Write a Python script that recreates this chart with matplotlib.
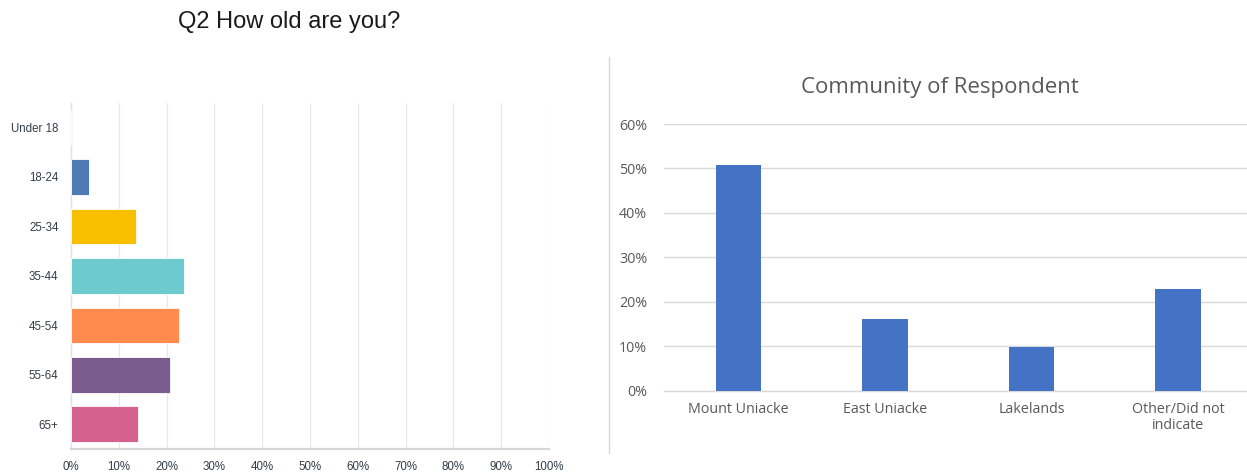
import matplotlib
matplotlib.use("Agg")
import matplotlib.pyplot as plt
from matplotlib.ticker import FuncFormatter

# ---- Data ----
age_groups = ["Under 18", "18-24", "25-34", "35-44", "45-54", "55-64", "65+"]
age_pct = [0.0, 3.7, 13.6, 23.7, 22.6, 20.7, 14.1]
age_colors = ["#4f7bb5", "#4f7bb5", "#f8be00", "#6dcacf", "#ff8b4f", "#7c5b8f", "#d5618f"]
age_ticks = [0, 10, 20, 30, 40, 50, 60, 70, 80, 90, 100]

communities = ["Mount Uniacke", "East Uniacke", "Lakelands", "Other/Did not\nindicate"]
community_pct = [0.507, 0.161, 0.099, 0.228]
community_ticks = [0, 0.1, 0.2, 0.3, 0.4, 0.5, 0.6]

W, H = 1247, 472
fig = plt.figure(figsize=(W / 100, H / 100), dpi=100)
fig.patch.set_facecolor("white")

def rect(l, t, r, b):
    return [l / W, 1 - b / H, (r - l) / W, (b - t) / H]

# ---- Left chart ----
ax1 = fig.add_axes(rect(71, 102.7, 549, 449))
ypos = list(range(len(age_groups)))
ax1.barh(ypos, age_pct, height=0.72, color=age_colors, edgecolor="white", linewidth=0.6, zorder=3)
ax1.set_ylim(len(age_groups) - 0.5, -0.5)
ax1.set_xlim(0, 100)
ax1.set_yticks(ypos)
ax1.set_yticklabels(age_groups, fontsize=8.3, color="#333e48", family="Liberation Sans")
ax1.set_xticks(age_ticks)
ax1.set_xticklabels([f"{t}%" for t in age_ticks], fontsize=8.3, color="#333e48", family="Liberation Sans")
ax1.tick_params(axis="y", length=0, pad=9)
ax1.tick_params(axis="x", length=0, pad=9)
ax1.grid(axis="x", color="#e8e8e8", linewidth=0.9, zorder=0)
for s in ["top", "right"]:
    ax1.spines[s].set_visible(False)
ax1.spines["left"].set_color("#e0e0e0")
ax1.spines["left"].set_linewidth(1.0)
ax1.spines["bottom"].set_color("#d6d6d6")
ax1.spines["bottom"].set_linewidth(1.6)

fig.text(289 / W, 1 - 22 / H, "Q2 How old are you?", fontsize=17, family="Liberation Sans",
         color="#1a1a1a", ha="center", va="center")

# ---- Separator ----
fig.add_artist(plt.Line2D([609 / W, 609 / W], [1 - 453 / H, 1 - 57 / H], color="#d9d9d9", linewidth=1.0))

# ---- Right chart ----
ax2 = fig.add_axes(rect(664, 124, 1251.5, 390.7))
xpos = list(range(len(communities)))
ax2.bar(xpos, community_pct, width=0.31, color="#4472c4", zorder=3)
ax2.set_xlim(-0.507, 3.5)
ax2.set_ylim(0, 0.6)
ax2.set_yticks(community_ticks)
ax2.yaxis.set_major_formatter(FuncFormatter(lambda v, p: f"{v * 100:.0f}%"))
ax2.set_xticks(xpos)
ax2.set_xticklabels(communities, fontsize=10.3, color="#595959", family="Open Sans", linespacing=1.1)
for lbl in ax2.get_yticklabels():
    lbl.set_fontsize(10.3)
    lbl.set_color("#595959")
    lbl.set_family("Open Sans")
ax2.tick_params(axis="both", length=0)
ax2.tick_params(axis="y", pad=12)
ax2.tick_params(axis="x", pad=8)
ax2.grid(axis="y", color="#d9d9d9", linewidth=1.0, zorder=0)
for s in ["top", "right", "left"]:
    ax2.spines[s].set_visible(False)
ax2.spines["bottom"].set_color("#d9d9d9")
ax2.spines["bottom"].set_linewidth(1.0)

fig.text(940 / W, 1 - 87 / H, "Community of Respondent", fontsize=16, family="Open Sans",
         color="#595959", ha="center", va="center")

fig.savefig("out.png", dpi=100, facecolor="white")
